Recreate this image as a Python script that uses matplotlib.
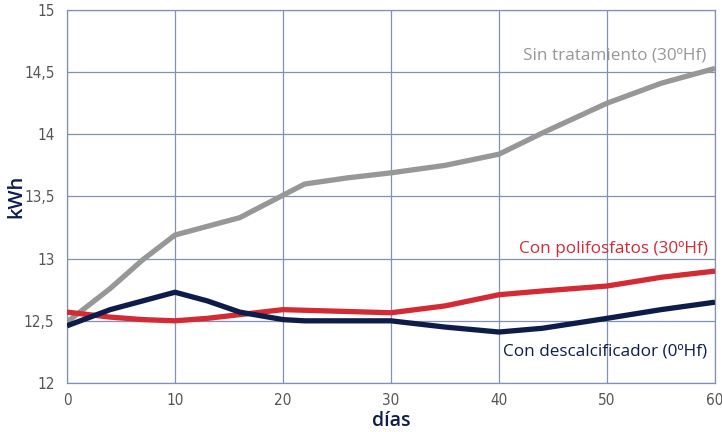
import matplotlib
matplotlib.use("Agg")
import matplotlib.pyplot as plt

dias = [0, 4, 7, 10, 13, 16, 20, 22, 26, 30, 35, 40, 44, 50, 55, 60]
sin_trat = [12.49, 12.76, 12.99, 13.19, 13.26, 13.33, 13.51, 13.60, 13.65, 13.69, 13.75, 13.84, 14.01, 14.25, 14.41, 14.53]
polifosf = [12.57, 12.53, 12.51, 12.50, 12.52, 12.55, 12.59, 12.585, 12.575, 12.565, 12.62, 12.71, 12.74, 12.78, 12.85, 12.90]
descalc = [12.46, 12.59, 12.66, 12.73, 12.66, 12.57, 12.51, 12.50, 12.50, 12.50, 12.45, 12.41, 12.44, 12.52, 12.59, 12.65]

xticks = [0, 10, 20, 30, 40, 50, 60]
yticks = [12, 12.5, 13, 13.5, 14, 14.5, 15]
ylabels = ["12", "12,5", "13", "13,5", "14", "14,5", "15"]

GRAY = "#979797"
RED = "#d42a34"
NAVY = "#0e1c4a"
GRID = "#8390b5"

fig = plt.figure(figsize=(7.22, 4.32), dpi=100)
ax = fig.add_axes([0.0928, 0.1134, 0.8975, 0.8636])

for ys, c, z in [(sin_trat, GRAY, 3), (polifosf, RED, 4), (descalc, NAVY, 5)]:
    ax.plot(dias, ys, color=c, lw=3.8, solid_capstyle="butt", solid_joinstyle="round", zorder=z)

ax.set_xlim(0, 60)
ax.set_ylim(12, 15)
ax.set_xticks(xticks)
ax.set_yticks(yticks)
ax.set_yticklabels(ylabels)
ax.grid(True, color=GRID, lw=0.9, zorder=1)
for s in ax.spines.values():
    s.set_color(GRID)
    s.set_linewidth(0.9)
for lab in ax.get_xticklabels() + ax.get_yticklabels():
    lab.set_fontfamily(["DejaVu Sans"])
    lab.set_fontstretch("condensed")
    lab.set_fontweight("light")
    lab.set_fontsize(11)
    lab.set_color("#555555")
ax.tick_params(axis="x", length=0, pad=7)
ax.tick_params(axis="y", length=0, pad=9)

lf = ["Open Sans", "DejaVu Sans"]
ax.set_xlabel("días", color=NAVY, fontsize=14, fontweight="semibold", family=lf)
ax.set_ylabel("kWh", color=NAVY, fontsize=14.5, fontweight="semibold", family=lf)
ax.xaxis.set_label_coords(0.5, -0.075)
ax.yaxis.label.set_va("center")
ax.yaxis.set_label_coords(-0.078, 0.5)

ax.text(59.2, 14.63, "Sin tratamiento (30ºHf)", color=GRAY, fontsize=12.3, ha="right", va="center", family=lf, fontweight="medium")
ax.text(59.3, 13.08, "Con polifosfatos (30ºHf)", color=RED, fontsize=12.3, ha="right", va="center", family=lf, fontweight="medium")
ax.text(59.3, 12.25, "Con descalcificador (0ºHf)", color=NAVY, fontsize=12.3, ha="right", va="center", family=lf, fontweight="medium")

fig.savefig("out.png", dpi=100)
